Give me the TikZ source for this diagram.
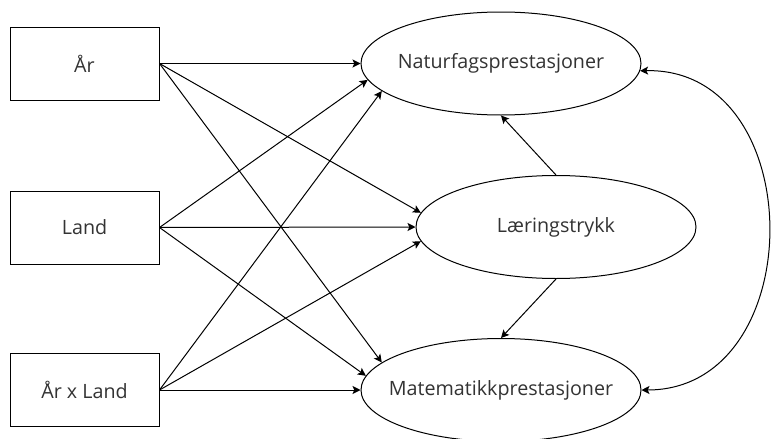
\documentclass[tikz,border=0pt]{standalone}
\usepackage{fontspec}
\setmainfont{Open Sans}
\usetikzlibrary{shapes.geometric,arrows.meta}

\tikzset{
  obs/.style={draw, rectangle, line width=1pt, minimum width=149pt, minimum height=73pt, inner sep=0pt},
  latent/.style={draw, ellipse, line width=1pt, minimum width=280pt, minimum height=103pt, inner sep=0pt},
  lbl/.style={text=black!80, font=\fontsize{19.7}{23}\selectfont, inner sep=0pt},
  tip/.style={Stealth[length=8pt,width=8pt,inset=1.8pt]},
  path/.style={line width=1pt, -{Stealth[length=8pt,width=8pt,inset=1.8pt]}},
  cov/.style={line width=1pt, {Stealth[length=8pt,width=8pt,inset=1.8pt]}-{Stealth[length=8pt,width=8pt,inset=1.8pt]}}
}

\begin{document}
\begin{tikzpicture}[x=1pt, y=-1pt]
  \useasboundingbox (0,0) rectangle (771,439);

  % exogenous variables
  \node[obs] (ar)   at (84.5,63.5)  {};
  \node[obs] (land) at (84.5,227.5) {};
  \node[obs] (arl)  at (84.5,390)   {};
  \node[lbl] at (ar)   {År};
  \node[lbl] at (land) {Land};
  \node[lbl] at (arl)  {År x Land};

  % outcome and mediator
  \node[latent] (nat) at (501,63.5) {};
  \node[latent] (lae) at (556,227)  {};
  \node[latent] (mat) at (501,390)  {};
  \node[lbl] at (nat) {Naturfagsprestasjoner};
  \node[lbl] at (lae) {Læringstrykk};
  \node[lbl] at (mat) {Matematikkprestasjoner};

  % effects from År
  \draw[path] (ar.east) -- (nat.west);
  \draw[path] (ar.east) -- (lae.174);
  \draw[path] (ar.east) -- (mat.167);

  % effects from Land
  \draw[path] (land.east) -- (nat.187);
  \draw[path] (land.east) -- (lae.west);
  \draw[path] (land.east) -- (mat.174);

  % effects from År x Land
  \draw[path] (arl.east) -- (nat.193);
  \draw[path] (arl.east) -- (lae.186);
  \draw[path] (arl.east) -- (mat.west);

  % mediator paths
  \draw[path] (lae.north) -- (nat.south);
  \draw[path] (lae.south) -- (mat.north);

  % residual covariance
  \draw[cov] (nat.-3) .. controls (811,67) and (811,390) .. (mat.east);
\end{tikzpicture}
\end{document}
